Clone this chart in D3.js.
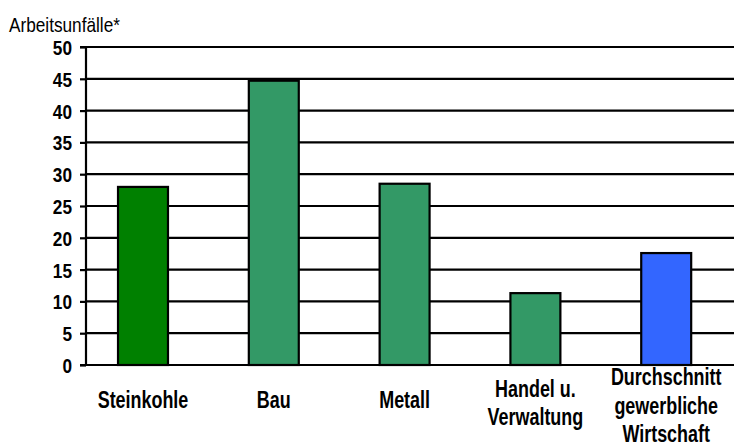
<!DOCTYPE html>
<html><head><meta charset="utf-8">
<script src="https://cdn.jsdelivr.net/npm/d3@7"></script>
<style>
html,body{margin:0;padding:0;background:#fff;}
svg{display:block;}
text{font-family:"Liberation Sans",Arial,sans-serif;fill:#000;}
</style></head>
<body>
<svg id="c" width="734" height="448"></svg>
<script>
const categories = ["Steinkohle", "Bau", "Metall", "Handel u.|Verwaltung", "Durchschnitt|gewerbliche|Wirtschaft"];
const values = [28.0, 44.7, 28.5, 11.3, 17.6];
const colors = ["#008000", "#339966", "#339966", "#339966", "#3366ff"];
const yTicks = [0, 5, 10, 15, 20, 25, 30, 35, 40, 45, 50];
const yTitle = "Arbeitsunfälle*";

(function(){
const svg = d3.select("#c");
const W = 734;
const SX = 0.82; // narrow-face emulation
const SXL = 0.78;
const FONT = '"Liberation Sans",Arial,sans-serif';
const axisX = 86, plotTop = 47, plotBottom = 365;

const y = d3.scaleLinear().domain([0, 50]).range([plotBottom, plotTop]);
const x = d3.scaleBand().domain(categories).range([77.6, 731.6])
  .paddingInner(0.618).paddingOuter(0.309);

// gridlines
svg.append("g").selectAll("line").data(yTicks).join("line")
  .attr("x1", axisX).attr("x2", W)
  .attr("y1", d => y(d)).attr("y2", d => y(d))
  .attr("stroke", "#000").attr("stroke-width", 2.2);

// y axis
const yAxis = d3.axisLeft(y).tickValues(yTicks).tickSize(6).tickPadding(8);
const ga = svg.append("g").attr("transform", `translate(${axisX},0)`).call(yAxis);
ga.select(".domain").attr("stroke", "#000").attr("stroke-width", 2.2).attr("d", `M-6,${plotTop}H0V${plotBottom}H-6`);
ga.selectAll(".tick line").attr("stroke", "#000").attr("stroke-width", 2.2);
ga.selectAll(".tick text").attr("font-family", FONT)
  .attr("font-size", 21).attr("font-weight", "bold").attr("fill", "#000")
  .attr("x", 0).attr("dy", "0.36em")
  .attr("transform", `translate(-14,0) scale(${SX},1)`);

// bars
svg.append("g").selectAll("rect").data(categories).join("rect")
  .attr("x", d => x(d)).attr("width", x.bandwidth())
  .attr("y", (d, i) => y(values[i])).attr("height", (d, i) => y(0) - y(values[i]))
  .attr("fill", (d, i) => colors[i]).attr("stroke", "#000").attr("stroke-width", 2.2);

// x labels
const lh = 28.5;
svg.append("g").selectAll("text").data(categories).join("text")
  .attr("text-anchor", "middle").attr("font-size", 23).attr("font-weight", "bold")
  .attr("transform", d => `translate(${x(d) + x.bandwidth() / 2},0) scale(${SXL},1)`)
  .each(function(d) {
    const lines = d.split("|");
    const n = lines.length;
    const b0 = 408.3 - (n - 1) * 11.5;
    d3.select(this).selectAll("tspan").data(lines).join("tspan")
      .attr("x", 0)
      .attr("y", (l, j) => b0 + j * lh)
      .text(l => l);
  });

// title
svg.append("text").attr("transform", `translate(9,32) scale(${SX},1)`)
  .attr("font-size", 21).text(yTitle);
})();
</script>
</body></html>
